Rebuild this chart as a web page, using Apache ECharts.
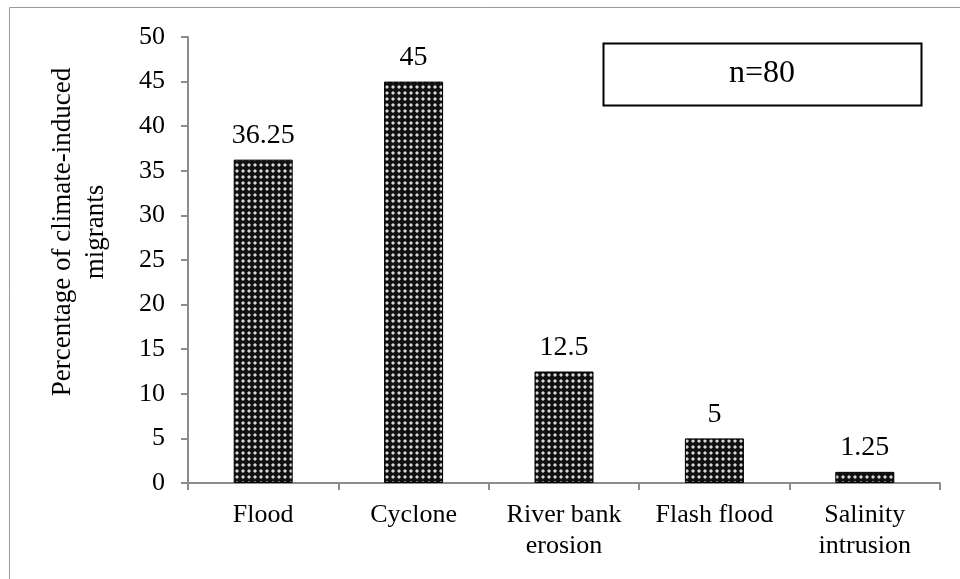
<!DOCTYPE html>
<html>
<head>
<meta charset="utf-8">
<script src="https://cdn.jsdelivr.net/npm/echarts@6/dist/echarts.min.js"></script>
<style>
  html, body { margin: 0; padding: 0; background: #fff; }
  #chart { width: 960px; height: 579px; }
</style>
</head>
<body>
<div id="chart"></div>
<script>
// Drivers of migration and share of respondents (%)
const categories = ['Flood', 'Cyclone', 'River bank\nerosion', 'Flash flood', 'Salinity\nintrusion'];
const percentages = [36.25, 45, 12.5, 5, 1.25];
const yTicks = { min: 0, max: 50, interval: 5 };
const sampleNote = 'n=80';
const axisTitle = 'Percentage of climate-induced\nmigrants';

// Dotted fill: dark ground with light dots
function dotPattern() {
  const c = document.createElement('canvas');
  c.width = 6; c.height = 6;
  const g = c.getContext('2d');
  g.fillStyle = '#111';
  g.fillRect(0, 0, 6, 6);
  g.fillStyle = '#d8d8d8';
  g.fillRect(2, 2, 2, 2);
  g.fillStyle = '#777';
  g.fillRect(1, 2, 1, 2);
  g.fillRect(4, 2, 1, 2);
  g.fillRect(2, 1, 2, 1);
  g.fillRect(2, 4, 2, 1);
  return c;
}

const font = '"Liberation Serif", "Times New Roman", serif';
const chart = echarts.init(document.getElementById('chart'));

chart.setOption({
  animation: false,
  backgroundColor: '#fff',
  grid: { left: 188, right: 20, top: 37, bottom: 96, containLabel: false },
  xAxis: {
    type: 'category',
    data: categories,
    axisLine: { lineStyle: { color: '#8c8c8c', width: 2 } },
    axisTick: { show: true, length: 7, alignWithLabel: false, lineStyle: { color: '#8c8c8c', width: 2 } },
    axisLabel: {
      color: '#000', fontFamily: font, fontSize: 26, lineHeight: 31, margin: 17, interval: 0
    }
  },
  yAxis: {
    type: 'value',
    min: yTicks.min, max: yTicks.max, interval: yTicks.interval,
    axisLine: { show: true, lineStyle: { color: '#8c8c8c', width: 2 } },
    axisTick: { show: true, length: 7, lineStyle: { color: '#8c8c8c', width: 2 } },
    axisLabel: { color: '#000', fontFamily: font, fontSize: 26, margin: 23 },
    splitLine: { show: false }
  },
  series: [{
    type: 'bar',
    data: percentages,
    barWidth: 59,
    itemStyle: {
      color: { image: dotPattern(), repeat: 'repeat' },
      borderColor: '#000',
      borderWidth: 1
    },
    label: {
      show: true, position: 'top', distance: 10,
      color: '#000', fontFamily: font, fontSize: 28
    }
  }],
  graphic: [
    {
      type: 'rect', silent: true, z: -10,
      shape: { x: 9.5, y: 7.5, width: 1200, height: 1200 },
      style: { fill: 'none', stroke: '#9a9a9a', lineWidth: 1 }
    },
    {
      type: 'text',
      x: 79, y: 232, rotation: Math.PI / 2,
      style: {
        text: axisTitle, fontFamily: font, fontSize: 27, lineHeight: 33,
        fill: '#000', align: 'center', verticalAlign: 'middle'
      }
    },
    {
      type: 'rect',
      shape: { x: 603.5, y: 43.5, width: 318, height: 62 },
      style: { fill: '#fff', stroke: '#000', lineWidth: 2 }
    },
    {
      type: 'text',
      x: 762, y: 74,
      style: {
        text: sampleNote, fontFamily: font, fontSize: 32,
        fill: '#000', align: 'center', verticalAlign: 'middle'
      }
    }
  ]
});
</script>
</body>
</html>
